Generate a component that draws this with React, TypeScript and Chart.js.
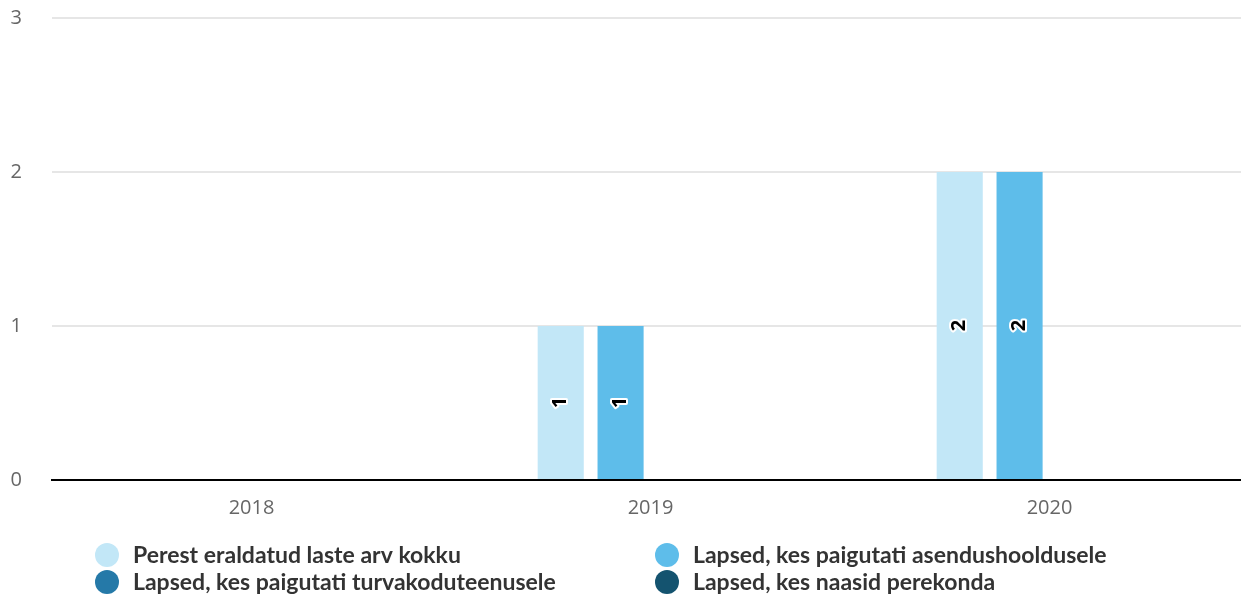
import React, { useEffect, useRef } from "react";
import { Chart, registerables } from "chart.js";

Chart.register(...registerables);

const categories = ["2018", "2019", "2020"];
const seriesNames = [
  "Perest eraldatud laste arv kokku",
  "Lapsed, kes paigutati asendushooldusele",
  "Lapsed, kes paigutati turvakoduteenusele",
  "Lapsed, kes naasid perekonda",
];
const totalRemoved = [0, 1, 2];
const substituteCare = [0, 1, 2];
const shelterService = [0, 0, 0];
const returnedHome = [0, 0, 0];
const seriesColors = ["#c2e7f7", "#5ebdea", "#2579a8", "#14536f"];
const yTicks = [0, 1, 2, 3];

const TICK_FONT = "'Open Sans', 'Noto Sans', sans-serif";
const LEGEND_FONT = "Lato, 'Roboto', sans-serif";

const barLabelPlugin = {
  id: "barLabels",
  afterDatasetsDraw(chart: any) {
    const ctx = chart.ctx;
    ctx.save();
    chart.data.datasets.forEach((ds: any, di: number) => {
      const meta = chart.getDatasetMeta(di);
      meta.data.forEach((bar: any, i: number) => {
        const v = ds.data[i];
        if (!v) return;
        const props = bar.getProps(["x", "y", "base"], true);
        const cy = (props.y + props.base) / 2;
        ctx.save();
        ctx.translate(props.x, cy);
        ctx.rotate(-Math.PI / 2);
        ctx.font = `bold 20px ${TICK_FONT}`;
        ctx.textAlign = "center";
        ctx.textBaseline = "middle";
        ctx.lineJoin = "round";
        ctx.lineWidth = 4;
        ctx.strokeStyle = "#ffffff";
        ctx.strokeText(String(v), 0, 0);
        ctx.fillStyle = "#000000";
        ctx.fillText(String(v), 0, 0);
        ctx.restore();
      });
    });
    ctx.restore();
  },
};

const legendPlugin = {
  id: "customLegend",
  afterDraw(chart: any) {
    const ctx = chart.ctx;
    const cols = [107, 667];
    const rows = [555, 582];
    ctx.save();
    chart.data.datasets.forEach((ds: any, i: number) => {
      const cx = cols[i % 2];
      const cy = rows[Math.floor(i / 2)];
      ctx.beginPath();
      ctx.arc(cx, cy, 12, 0, Math.PI * 2);
      ctx.fillStyle = ds.backgroundColor;
      ctx.fill();
      ctx.font = `bold 23px ${LEGEND_FONT}`;
      ctx.fillStyle = "#333333";
      ctx.textAlign = "left";
      ctx.textBaseline = "middle";
      ctx.fillText(ds.label, cx + 26, cy + 1);
    });
    ctx.restore();
  },
};

export default function App() {
  const ref = useRef<HTMLCanvasElement | null>(null);
  useEffect(() => {
    if (!ref.current) return;
    const values = [totalRemoved, substituteCare, shelterService, returnedHome];
    const chart = new Chart(ref.current, {
      type: "bar",
      data: {
        labels: categories,
        datasets: values.map((d, i) => ({
          label: seriesNames[i],
          data: d,
          backgroundColor: seriesColors[i],
          borderWidth: 0,
          categoryPercentage: 0.6,
          barPercentage: 0.77,
        })),
      },
      options: {
        responsive: false,
        animation: false,
        layout: { padding: { top: 18, left: 0, right: 0, bottom: 0 } },
        plugins: {
          legend: { display: false },
          tooltip: { enabled: false },
        },
        scales: {
          x: {
            grid: { display: false, drawTicks: false },
            border: { display: true, color: "#000000", width: 2 },
            ticks: {
              color: "#666666",
              font: { family: TICK_FONT, size: 20 },
              padding: 16,
              maxRotation: 0,
            },
            afterFit: (s: any) => {
              s.height = 117;
              s.paddingLeft = 0;
              s.paddingRight = 0;
            },
          },
          y: {
            min: 0,
            max: 3,
            afterBuildTicks: (s: any) => {
              s.ticks = yTicks.map((v) => ({ value: v }));
            },
            grid: { color: "#e6e6e6", lineWidth: 2, drawTicks: false },
            border: { display: false },
            ticks: {
              color: "#666666",
              font: { family: TICK_FONT, size: 20 },
              padding: 30,
            },
            afterFit: (s: any) => {
              s.width = 52;
              s.paddingTop = 0;
              s.paddingBottom = 0;
            },
          },
        },
      },
      plugins: [barLabelPlugin, legendPlugin],
    });
    return () => chart.destroy();
  }, []);
  return (
    <div
      style={{
        position: "fixed",
        left: 0,
        top: 0,
        width: 1241,
        height: 597,
        overflow: "hidden",
        background: "#ffffff",
      }}
    >
      <canvas ref={ref} width={1249} height={597} style={{ display: "block" }} />
    </div>
  );
}
